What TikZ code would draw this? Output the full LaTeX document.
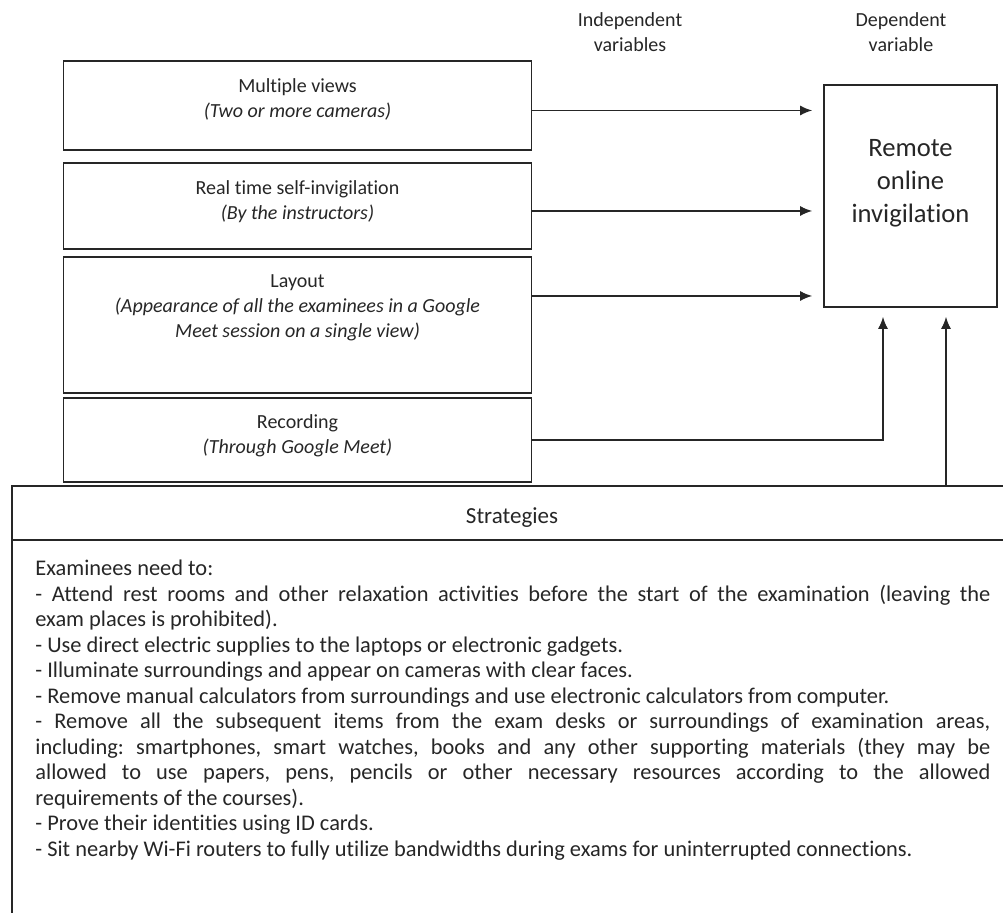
\documentclass[tikz,border=0pt]{standalone}
\usepackage{fontspec}
\setmainfont[Ligatures=NoCommon]{Carlito}
\usepackage{xcolor}
\usetikzlibrary{arrows, arrows.meta, positioning, calc}
\definecolor{inkGrey}{HTML}{262626}
\frenchspacing
\tikzstyle{varbox} = [rectangle, minimum width=234pt, draw=inkGrey, line width=0.8pt, inner sep=0pt]
\tikzstyle{boxtext} = [align=center, inner sep=0pt, text=inkGrey, font=\fontsize{10}{12.5}\selectfont]
\tikzstyle{depbox} = [rectangle, minimum width=86.5pt, minimum height=111pt, draw=inkGrey, line width=0.8pt, inner sep=0pt]
\tikzstyle{deptext} = [align=center, inner sep=0pt, text=inkGrey, font=\fontsize{13.3}{16.5}\selectfont]
\tikzstyle{stratbox} = [rectangle, minimum width=500pt, draw=inkGrey, line width=0.8pt, inner sep=0pt]
\tikzstyle{strattitle} = [inner sep=0pt, text=inkGrey, font=\fontsize{11.5}{13}\selectfont]
\tikzstyle{strattext} = [text width=477.5pt, align=justify, inner sep=0pt, text=inkGrey, font={\fontsize{11.2}{12.75}\selectfont\parindent=0pt\hyphenpenalty=10000\tolerance=9999}]
\tikzstyle{arrow} = [line width=0.8pt,->,>={Latex[length=6pt,width=5pt]}, draw=inkGrey]

\begin{document}
\begin{tikzpicture}[x=0.5pt, y=-0.5pt]
\useasboundingbox (0,0) rectangle (1003,913);

% column headings
\node (indepHead) [boxtext] at (630,32.6) {Independent\\variables};
\node (depHead) [boxtext] at (901,32.6) {Dependent\\variable};

% independent variables
\node (views) [varbox, minimum height=44.5pt] at (297.5,105.5) {};
\node (realtime) [varbox, minimum height=43pt] at (297.5,206) {};
\node (layout) [varbox, minimum height=68pt] at (297.5,325) {};
\node (recording) [varbox, minimum height=42pt] at (297.5,440) {};

\node (viewsText) [boxtext, below=9pt of views.north] {Multiple views\\\textit{(Two or more cameras)}};
\node (realtimeText) [boxtext, below=9pt of realtime.north] {Real time self-invigilation\\\textit{(By the instructors)}};
\node (layoutText) [boxtext, below=9pt of layout.north] {Layout\\\textit{(Appearance of all the examinees in a Google}\\\textit{Meet session on a single view)}};
\node (recordingText) [boxtext, below=8.5pt of recording.north] {Recording\\\textit{(Through Google Meet)}};

% dependent variable
\node (dep) [depbox] at (910.5,196) {};
\node (depText) [deptext] at ([yshift=6.5pt]dep.center) {Remote\\online\\invigilation};

% strategies
\node (stratHead) [stratbox, minimum height=27pt] at (512,513) {};
\node (stratTitle) [strattitle] at (512,518) {Strategies};
\node (stratBody) [stratbox, minimum height=205pt] at (512,745) {};
\node (stratText) [strattext, anchor=north west] at (35,560) {Examinees need to:\par
- Attend rest rooms and other relaxation activities before the start of the examination (leaving the\linebreak exam places is prohibited).\par
- Use direct electric supplies to the laptops or electronic gadgets.\par
- Illuminate surroundings and appear on cameras with clear faces.\par
- Remove manual calculators from surroundings and use electronic calculators from computer.\par
- Remove all the subsequent items from the exam desks or surroundings of examination areas,\linebreak including: smartphones, smart watches, books and any other supporting materials (they may be\linebreak allowed to use papers, pens, pencils or other necessary resources according to the allowed\linebreak requirements of the courses).\par
- Prove their identities using ID cards.\par
- Sit nearby Wi-Fi routers to fully utilize bandwidths during exams for uninterrupted connections.};

% connectors
\draw [arrow, shorten >=5.5pt] ([yshift=-2.5pt]views.east) -- ([yshift=-2.5pt]views.east -| dep.west);
\draw [arrow, shorten >=5.5pt] ([yshift=-2.5pt]realtime.east) -- ([yshift=-2.5pt]realtime.east -| dep.west);
\draw [arrow, shorten >=5.5pt] ([yshift=14.5pt]layout.east) -- ([yshift=14.5pt]layout.east -| dep.west);
\draw [arrow, shorten >=4.5pt] (recording.east) -| ([xshift=-13.75pt]dep.south);
\draw [arrow, shorten >=4.5pt] ([xshift=17.75pt]dep.south |- stratHead.north) -- ([xshift=17.75pt]dep.south);

\end{tikzpicture}
\end{document}
